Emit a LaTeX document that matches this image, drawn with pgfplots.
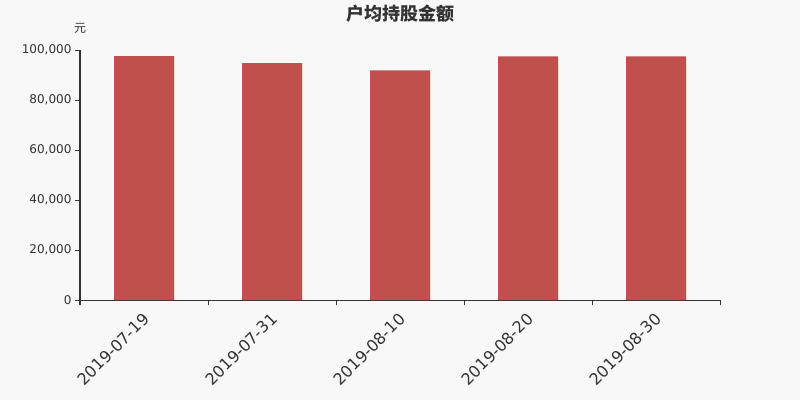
\documentclass[border=0pt]{standalone}
\usepackage{fontspec}
\setmainfont{DejaVu Sans}
\newfontfamily\cjk{Noto Sans CJK SC}
\usepackage{pgfplots}
\pgfplotsset{compat=1.18}
\definecolor{bg}{HTML}{F8F8F8}
\definecolor{barred}{HTML}{C0504D}
\definecolor{axisgray}{HTML}{333333}
\begin{document}
\begin{tikzpicture}[x=1pt,y=1pt]
\fill[bg] (0,0) rectangle (800,400);
\node[font=\cjk\bfseries\fontsize{18}{18}\selectfont, text=axisgray] at (400,386) {户均持股金额};
\node[font=\cjk\fontsize{12}{12}\selectfont, text=axisgray] at (80,372) {元};
\begin{axis}[
    at={(80pt,100pt)}, anchor=south west,
    scale only axis, width=640pt, height=250pt,
    xmin=-0.5, xmax=4.5,
    ymin=0, ymax=100000,
    axis x line*=bottom, axis y line*=left,
    axis line style={-, axisgray, line width=1pt},
    tick align=outside,
    major tick length=5pt, minor tick length=5pt,
    tick style={axisgray, line width=1pt},
    xtick={0,1,2,3,4},
    xticklabels={2019-07-19,2019-07-31,2019-08-10,2019-08-20,2019-08-30},
    major x tick style={draw=none},
    minor xtick={-0.5,0.5,1.5,2.5,3.5,4.5},
    xticklabel style={rotate=45, anchor=north east, text=axisgray,
        xshift=-3pt, font=\fontsize{16}{16}\selectfont},
    ytick={0,20000,40000,60000,80000,100000},
    scaled y ticks=false,
    yticklabel style={text=axisgray, font=\fontsize{12}{12}\selectfont,
        /pgf/number format/.cd, fixed, 1000 sep={,}, assume math mode=true},
    ybar, bar width=60pt,
]
\addplot[fill=barred, draw=none] coordinates {
    (0,97600) (1,94800) (2,91900) (3,97500) (4,97500)
};
\end{axis}
\pgfresetboundingbox
\path[use as bounding box] (0,0) rectangle (800,400);
\end{tikzpicture}
\end{document}
